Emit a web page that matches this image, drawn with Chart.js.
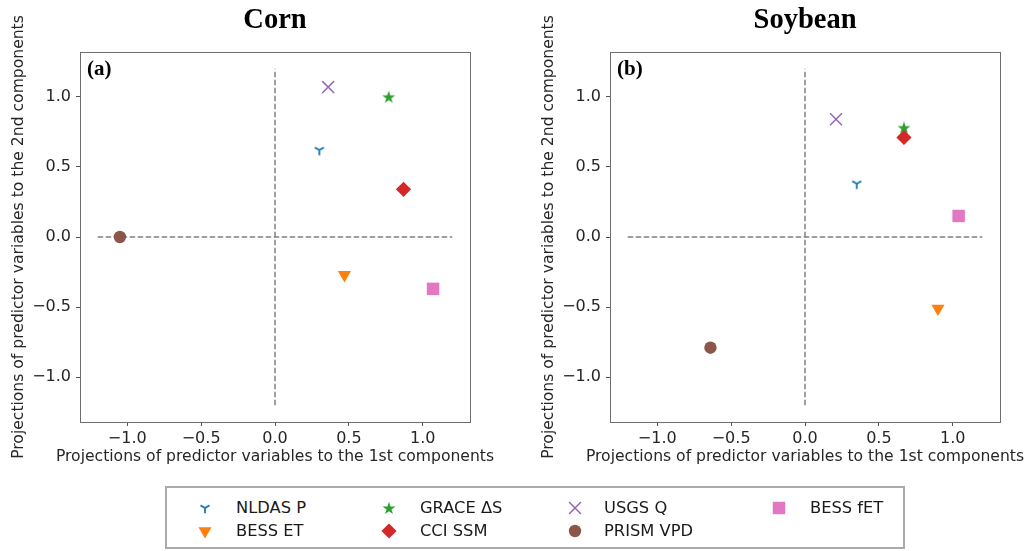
<!DOCTYPE html>
<html><head><meta charset="utf-8">
<script src="https://cdn.jsdelivr.net/npm/chart.js@4.4.1/dist/chart.umd.min.js"></script>
<style>
html,body{margin:0;padding:0;background:#fff;width:1029px;height:551px;overflow:hidden;position:relative;font-family:"DejaVu Sans",sans-serif;}
canvas.panel{position:absolute;top:0;}
#legend{position:absolute;left:165px;top:486px;width:740px;height:63px;box-sizing:border-box;border:2px solid #aaaaaa;background:#fff;}
#legend canvas{position:absolute;}
#legend span{position:absolute;font-size:16.3px;line-height:20px;color:#1a1a1a;white-space:nowrap;font-family:"DejaVu Sans",sans-serif;}
</style></head><body>
<canvas id="c1" class="panel" width="499" height="480" style="left:0px"></canvas>
<canvas id="c2" class="panel" width="499" height="480" style="left:530px"></canvas>
<div id="legend"></div>
<script>
// ---- data ----
const seriesNames = ['NLDAS P', 'BESS ET', 'GRACE ΔS', 'CCI SSM', 'USGS Q', 'PRISM VPD', 'BESS fET'];
const seriesColors = ['#1f77b4', '#ff7f0e', '#2ca02c', '#d62728', '#9467bd', '#8c564b', '#e377c2'];
const cornX = [0.30, 0.47, 0.77, 0.87, 0.36, -1.05, 1.07];
const cornY = [0.62, -0.27, 1.00, 0.34, 1.07, 0.00, -0.37];
const soyX  = [0.35, 0.90, 0.67, 0.67, 0.21, -0.64, 1.04];
const soyY  = [0.38, -0.51, 0.78, 0.71, 0.84, -0.79, 0.15];
const tickValues = [-1.0, -0.5, 0.0, 0.5, 1.0];
const axisLimits = [-1.32, 1.32];
const refLineSpan = [-1.2, 1.2];
const panelTitles = ['Corn', 'Soybean'];
const panelTags = ['(a)', '(b)'];
const xAxisTitle = 'Projections of predictor variables to the 1st components';
const yAxisTitle = 'Projections of predictor variables to the 2nd components';

// ---- custom marker images ----
function makeMarker(size, draw) {
  const c = document.createElement('canvas');
  c.width = size; c.height = size;
  const g = c.getContext('2d');
  draw(g, size / 2);
  return c;
}
const triDown = makeMarker(12, (g, m) => {
  g.strokeStyle = seriesColors[0]; g.lineWidth = 1.8; g.lineCap = 'butt';
  const r = 5.2;
  g.beginPath();
  g.moveTo(m, m); g.lineTo(m, m + r);
  g.moveTo(m, m); g.lineTo(m - r * 0.866, m - r * 0.5);
  g.moveTo(m, m); g.lineTo(m + r * 0.866, m - r * 0.5);
  g.stroke();
});
const star5 = makeMarker(16, (g, m) => {
  g.fillStyle = seriesColors[2];
  const R = 6.8, r = R * 0.382;
  g.beginPath();
  for (let i = 0; i < 10; i++) {
    const rad = (i % 2 === 0) ? R : r;
    const a = -Math.PI / 2 + i * Math.PI / 5;
    const px = m + rad * Math.cos(a), py = m + 0.6 + rad * Math.sin(a);
    if (i === 0) g.moveTo(px, py); else g.lineTo(px, py);
  }
  g.closePath(); g.fill();
});
const markerSpec = [
  {style: triDown, radius: 6, rotation: 0, bw: 0},
  {style: 'triangle', radius: 7.6, rotation: 180, bw: 0},
  {style: star5, radius: 7, rotation: 0, bw: 0},
  {style: 'rectRot', radius: 7.6, rotation: 0, bw: 0},
  {style: 'crossRot', radius: 8.4, rotation: 0, bw: 1.5},
  {style: 'circle', radius: 6.2, rotation: 0, bw: 0},
  {style: 'rect', radius: 8.8, rotation: 0, bw: 0}
];

Chart.defaults.font.family = '"DejaVu Sans", sans-serif';
Chart.defaults.color = '#262626';

const panelDecor = {
  id: 'panelDecor',
  afterDraw(chart, args, opts) {
    const {ctx, chartArea: a} = chart;
    ctx.save();
    ctx.strokeStyle = '#6e6e6e'; ctx.lineWidth = 1;
    ctx.strokeRect(Math.round(a.left) + 0.5, Math.round(a.top) + 0.5,
                   Math.round(a.right - a.left), Math.round(a.bottom - a.top));
    ctx.fillStyle = '#262626';
    ctx.font = '15.6px "DejaVu Sans"';
    ctx.textAlign = 'center'; ctx.textBaseline = 'middle';
    ctx.fillText(opts.xTitle, (a.left + a.right) / 2, opts.xTitleY);
    ctx.save();
    ctx.translate(opts.yTitleX, (a.top + a.bottom) / 2);
    ctx.rotate(-Math.PI / 2);
    ctx.fillText(opts.yTitle, 0, 0);
    ctx.restore();
    ctx.fillStyle = '#000';
    ctx.font = 'bold 21px "Liberation Serif"';
    ctx.textAlign = 'left'; ctx.textBaseline = 'alphabetic';
    ctx.fillText(opts.tag, a.left + 7, a.top + 22.5);
    ctx.restore();
  }
};

function fmt(v) { return (v < 0 ? '\u2212' : '') + Math.abs(v).toFixed(1); }

function axis(isX) {
  return {
    type: 'linear',
    min: axisLimits[0], max: axisLimits[1],
    afterBuildTicks: s => { s.ticks = tickValues.map(v => ({value: v})); },
    afterFit: s => { if (isX) s.height = 58; else s.width = 80; },
    grid: {display: true, drawOnChartArea: false, drawTicks: true, tickLength: 4, tickColor: '#555', tickWidth: 1},
    border: {display: false},
    ticks: {font: {size: 16}, color: '#262626', padding: isX ? 3 : 5, callback: v => fmt(v), maxRotation: 0, autoSkip: false},
    title: {display: false}
  };
}

function build(canvasId, xs, ys, idx) {
  const datasets = [
    {label: 'h', data: refLineSpan.map(v => ({x: v, y: 0})), showLine: true, borderColor: '#808080', borderWidth: 1.5, borderDash: [5.5, 2.5], pointRadius: 0, order: 100},
    {label: 'v', data: refLineSpan.map(v => ({x: 0, y: v})), showLine: true, borderColor: '#808080', borderWidth: 1.5, borderDash: [5.5, 2.5], pointRadius: 0, order: 100}
  ];
  seriesNames.forEach((n, i) => {
    const m = markerSpec[i];
    datasets.push({
      label: n,
      data: [{x: xs[i], y: ys[i]}],
      pointStyle: m.style, pointRadius: m.radius, pointRotation: m.rotation,
      backgroundColor: seriesColors[i], borderColor: seriesColors[i], borderWidth: m.bw,
      order: seriesNames.length - i
    });
  });
  return new Chart(document.getElementById(canvasId), {
    type: 'scatter',
    data: {datasets},
    options: {
      responsive: false, animation: false, events: [],
      layout: {padding: {left: 0, right: 29, top: 0, bottom: 0}},
      scales: {x: axis(true), y: axis(false)},
      plugins: {
        legend: {display: false}, tooltip: {enabled: false},
        title: {display: true, text: panelTitles[idx], fullSize: false, color: '#000',
                font: {family: '"Liberation Serif", serif', size: 28.5, weight: 'bold'},
                padding: {top: 3.5, bottom: 14.3}},
        panelDecor: {xTitle: xAxisTitle, yTitle: yAxisTitle, tag: panelTags[idx], xTitleY: 457, yTitleX: 19}
      }
    },
    plugins: [panelDecor]
  });
}
build('c1', cornX, cornY, 0);
build('c2', soyX, soyY, 1);

// ---- legend (column-major, 2 rows x 4 columns) ----
const legend = document.getElementById('legend');
const legMarkerX = [205, 389, 575, 779];
const legTextX = [236, 420, 604, 810];
const legRowY = [507.5, 530.5];
const legOrigin = [167, 488];
seriesNames.forEach((n, i) => {
  const col = Math.floor(i / 2), row = i % 2;
  const m = markerSpec[i];
  const c = document.createElement('canvas');
  c.width = 24; c.height = 24;
  c.style.left = (legMarkerX[col] - 12 - legOrigin[0]) + 'px';
  c.style.top = (legRowY[row] - 12 - legOrigin[1]) + 'px';
  const g = c.getContext('2d');
  g.fillStyle = seriesColors[i]; g.strokeStyle = seriesColors[i]; g.lineWidth = m.bw;
  if (Chart.helpers && Chart.helpers.drawPoint) {
    Chart.helpers.drawPoint(g, {pointStyle: m.style, radius: m.radius, rotation: m.rotation, borderWidth: m.bw}, 12, 12);
  }
  legend.appendChild(c);
  const s = document.createElement('span');
  s.textContent = n;
  s.style.left = (legTextX[col] - legOrigin[0]) + 'px';
  s.style.top = (legRowY[row] - 10 - legOrigin[1]) + 'px';
  legend.appendChild(s);
});
</script>
</body></html>
